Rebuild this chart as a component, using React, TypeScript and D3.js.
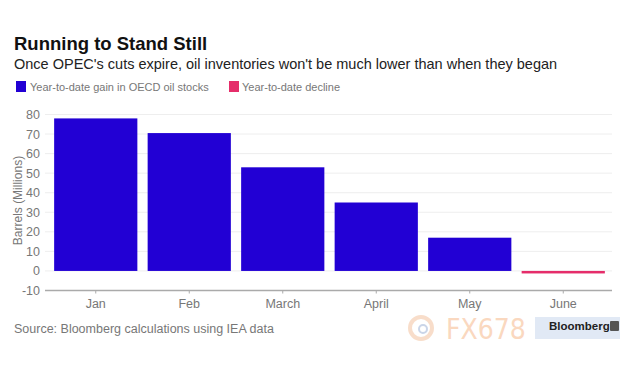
import React from "react";
import * as d3 from "d3";

const categories = ["Jan", "Feb", "March", "April", "May", "June"];
const values = [78, 70.5, 53, 35, 17, -1];
const yTicks = [-10, 0, 10, 20, 30, 40, 50, 60, 70, 80];
const legendLabels = ["Year-to-date gain in OECD oil stocks", "Year-to-date decline"];

const BLUE = "#2200d4";
const PINK = "#e52d6a";
const FONT = "'Liberation Sans', Arial, Helvetica, sans-serif";

export default function App() {
  const W = 630, H = 367;
  const x = d3.scaleBand<string>().domain(categories).range([49, 610]).paddingInner(0.11).paddingOuter(0.055);
  const y = d3.scaleLinear().domain([-10, 80]).range([290.5, 114.5]);
  const left = 45, right = 612;
  return (
    <svg width={W} height={H} style={{ position: "absolute", left: 0, top: 0, background: "#fff" }} fontFamily={FONT}>
      <rect width={W} height={H} fill="#fff" />
      <text x={14} y={50} fontSize={18.5} fontWeight="bold" fill="#111">Running to Stand Still</text>
      <text x={14} y={69} fontSize={14.5} fill="#222">Once OPEC's cuts expire, oil inventories won't be much lower than when they began</text>
      <rect x={16} y={81} width={10} height={11} fill={BLUE} />
      <text x={30} y={91} fontSize={11} fill="#777">{legendLabels[0]}</text>
      <rect x={229} y={81} width={10} height={11} fill={PINK} />
      <text x={242} y={91} fontSize={11} fill="#777">{legendLabels[1]}</text>

      {yTicks.map((t) => (
        <g key={t}>
          {t !== -10 && <line x1={left} x2={right} y1={y(t)} y2={y(t)} stroke="#eeeeee" strokeWidth={1} />}
          <text x={40} y={y(t) + 4.5} fontSize={12.5} fill="#777" textAnchor="end">{t}</text>
        </g>
      ))}
      <text transform={`translate(22,${y(36)}) rotate(-90)`} fontSize={12} fill="#777" textAnchor="middle">Barrels (Millions)</text>

      {categories.map((c, i) => {
        const v = values[i];
        const bx = x(c)!;
        if (v >= 0) {
          return <rect key={c} x={bx} y={y(v)} width={x.bandwidth()} height={y(0) - y(v)} fill={BLUE} />;
        }
        return <rect key={c} x={bx} y={y(0)} width={x.bandwidth()} height={Math.max(2.5, y(v) - y(0))} fill={PINK} />;
      })}

      <line x1={left} x2={right} y1={y(-10)} y2={y(-10)} stroke="#aaa" strokeWidth={1.5} />
      {categories.map((c) => {
        const cx = x(c)! + x.bandwidth() / 2;
        return (
          <g key={c}>
            <line x1={cx} x2={cx} y1={y(-10)} y2={y(-10) + 3} stroke="#aaa" />
            <text x={cx} y={308} fontSize={12.5} fill="#777" textAnchor="middle">{c}</text>
          </g>
        );
      })}

      <text x={14} y={333} fontSize={12.5} fill="#777">Source: Bloomberg calculations using IEA data</text>
      <g opacity={0.55}>
        <circle cx={421} cy={328} r={11} fill="none" stroke="#f3c3a0" strokeWidth={4} />
        <circle cx={423} cy={329} r={4} fill="none" stroke="#9fb3d6" strokeWidth={2} />
        <text x={446} y={339} fontSize={28} fill="#f7b98c" fontFamily="'DejaVu Sans Condensed', 'Liberation Sans Narrow', sans-serif">FX678</text>
        <rect x={535} y={317} width={85} height={22} fill="#c9d8ee" />
      </g>
      <text x={549} y={330} fontSize={11.5} fontWeight="bold" fill="#222">Bloomberg</text>
      <rect x={610} y={321} width={9} height={10} rx={1} fill="#555" />
    </svg>
  );
}
